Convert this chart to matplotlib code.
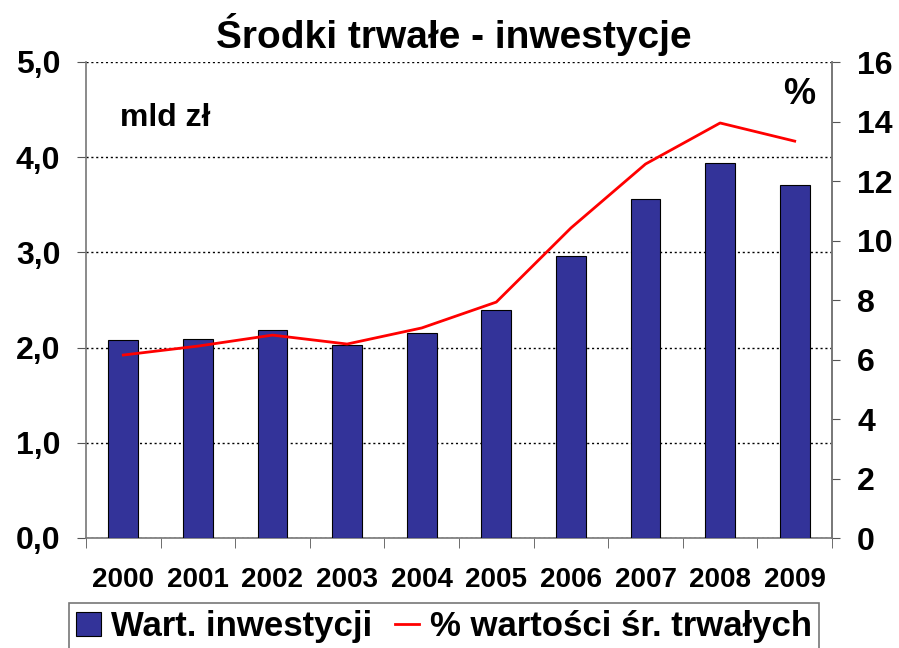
import matplotlib
matplotlib.use("Agg")
import matplotlib.pyplot as plt
from matplotlib.ticker import FixedLocator

years = ["2000", "2001", "2002", "2003", "2004", "2005", "2006", "2007", "2008", "2009"]
invest = [2.08, 2.09, 2.18, 2.03, 2.15, 2.40, 2.96, 3.56, 3.94, 3.71]
pct = [6.15, 6.45, 6.82, 6.52, 7.06, 7.93, 10.42, 12.57, 13.95, 13.34]
left_ticks = [0, 1, 2, 3, 4, 5]
left_labels = ["0,0", "1,0", "2,0", "3,0", "4,0", "5,0"]
right_ticks = [0, 2, 4, 6, 8, 10, 12, 14, 16]

plt.rcParams['font.family'] = ['Liberation Sans', 'DejaVu Sans']
plt.rcParams['font.weight'] = 'bold'

fig = plt.figure(figsize=(8.99, 6.48), dpi=100)
ax = fig.add_axes([86/899, 1-538/648, (832-86)/899, (538-62)/648])
x = list(range(len(years)))
bars = ax.bar(x, invest, width=0.4, color='#333399', edgecolor='black', linewidth=0.8,
              label='Wart. inwestycji', zorder=3)
ax.set_xlim(-0.5, 9.5)
ax.set_ylim(0, 5)
ax.set_yticks(left_ticks)
ax.set_yticklabels(left_labels, fontsize=23, fontweight='bold')
ax.set_xticks(x)
ax.set_xticklabels(years, fontsize=20, fontweight='bold')
ax.xaxis.set_minor_locator(FixedLocator([i - 0.5 for i in range(len(years) + 1)]))
ax.tick_params(axis='x', which='major', length=0, pad=21)
ax.tick_params(axis='x', which='minor', length=7, color='#555555')
ax.tick_params(axis='y', length=6.5, color='#555555', pad=12)
ax.grid(axis='y', linestyle=(0, (1.5, 2)), color='black', linewidth=1, zorder=1)
ax.spines['top'].set_visible(False)
for s in ['left', 'bottom', 'right']:
    ax.spines[s].set_color('#777777')
    ax.spines[s].set_linewidth(1.2)

ax2 = ax.twinx()
line, = ax2.plot(x, pct, color='#ff0000', linewidth=2, label='% wartości śr. trwałych', zorder=4)
ax2.set_ylim(0, 16)
ax2.set_yticks(right_ticks)
ax2.set_yticklabels([str(t) for t in right_ticks], fontsize=23, fontweight='bold')
ax2.tick_params(axis='y', length=6, color='#555555', pad=12)
ax2.spines['top'].set_visible(False)
ax2.spines['right'].set_color('#777777')
ax2.spines['right'].set_linewidth(1.2)
ax2.spines['left'].set_visible(False)
ax2.spines['bottom'].set_visible(False)

fig.text(454/899, 1-35/648, 'Środki trwałe - inwestycje', ha='center', va='center',
         fontsize=28, fontweight='bold')
fig.text(165/899, 1-118/648, 'mld zł', ha='center', va='center', fontsize=23, fontweight='bold')
fig.text(799/899, 1-95/648, '%', ha='center', va='center', fontsize=26, fontweight='bold')

leg = fig.legend([bars, line], ['Wart. inwestycji', '% wartości śr. trwałych'],
                 loc='upper center', bbox_to_anchor=(444/899, 1-603/648), ncol=2,
                 prop={'size': 25, 'weight': 'bold'}, frameon=True, fancybox=False,
                 edgecolor='#555555', handlelength=0.7, handleheight=0.7,
                 handletextpad=0.3, columnspacing=0.65, borderpad=0.2, borderaxespad=0)
leg.get_frame().set_linewidth(1.2)

fig.savefig('out.png', dpi=100)
